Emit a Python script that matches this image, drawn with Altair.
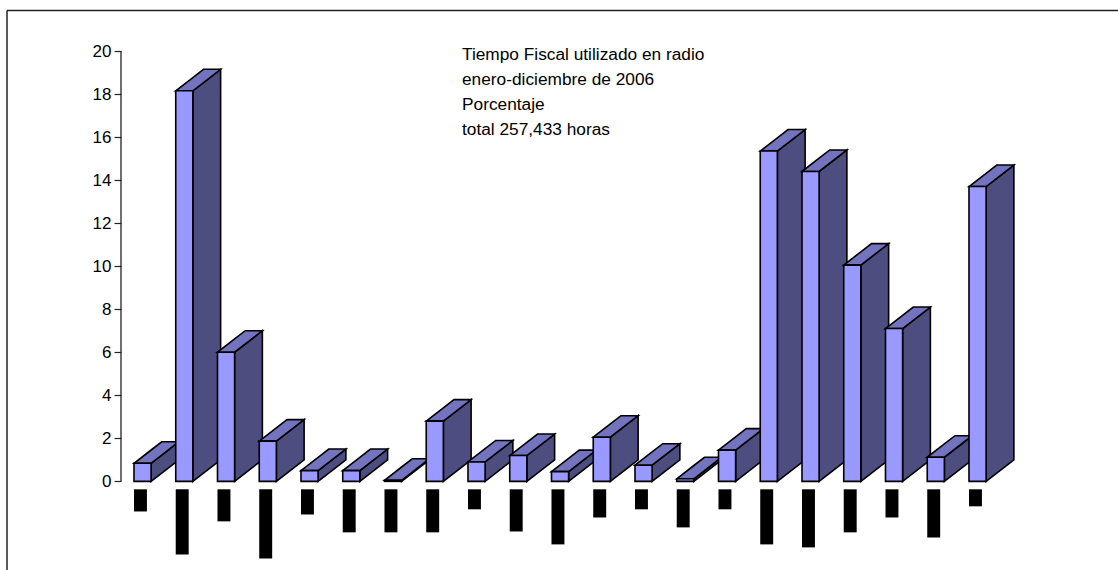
import altair as alt
import pandas as pd

# Share of fiscal airtime per station group, percent
values = [0.84, 18.15, 6.0, 1.87, 0.5, 0.5, 0.05, 2.8, 0.9, 1.2, 0.45,
          2.05, 0.75, 0.12, 1.45, 15.35, 14.4, 10.05, 7.1, 1.12, 13.7]
# Length of the blacked-out category labels, in axis units below zero
label_ends = [1.40, 3.40, 1.86, 3.58, 1.54, 2.37, 2.37, 2.37, 1.30, 2.33, 2.93,
              1.68, 1.30, 2.14, 1.30, 2.93, 3.07, 2.37, 1.68, 2.61, 1.16]
heading = ["Tiempo Fiscal utilizado en radio", "enero-diciembre de 2006",
           "Porcentaje", "total 257,433 horas"]
y_ticks = list(range(0, 21, 2))

BAR_W = 0.41    # front face width, in category steps
DEPTH_X = 0.665 # extrusion to the right, in category steps
DEPTH_Y = 1.0   # extrusion upward, in percent units
LABEL_W = 0.31
LABEL_TOP = -0.37
EDGE = 1.6

fronts, sides, tops, labels = [], [], [], []
for i, (v, end) in enumerate(zip(values, label_ends)):
    fronts.append({"x": i, "x2": i + BAR_W, "y": v, "y2": 0})
    labels.append({"x": i, "x2": i + LABEL_W, "y": LABEL_TOP, "y2": -end})
    r = i + BAR_W
    sides += [
        {"i": i, "x": r, "y": v, "y2": 0},
        {"i": i, "x": r + DEPTH_X, "y": v + DEPTH_Y, "y2": DEPTH_Y},
    ]
    slope = DEPTH_Y / DEPTH_X
    tops += [
        {"i": i, "x": i, "y": v, "y2": v},
        {"i": i, "x": r, "y": v + BAR_W * slope, "y2": v},
        {"i": i, "x": i + DEPTH_X, "y": v + DEPTH_Y, "y2": v + (DEPTH_X - BAR_W) * slope},
        {"i": i, "x": r + DEPTH_X, "y": v + DEPTH_Y, "y2": v + DEPTH_Y},
    ]

PLOT_W, PLOT_H = 997, 519
x_scale = alt.Scale(domain=[-0.311, 23.569], nice=False, zero=False)
y_scale = alt.Scale(domain=[-4.12, 20], nice=False, zero=False)
# Value axis: ticks and labels come from the scale, the spine is drawn separately
y_axis = alt.Axis(
    values=y_ticks, title=None, domain=False, grid=False, tickSize=7,
    tickColor="#222222", tickWidth=1.2, labelColor="black", labelPadding=3,
    labelFont="Liberation Sans", labelFontSize=17, format="d",
)
x_enc = alt.X("x:Q", scale=x_scale, axis=None)
y_enc = alt.Y("y:Q", scale=y_scale, stack=None, axis=y_axis)

side_layer = alt.Chart(pd.DataFrame(sides)).mark_area(
    color="#4D4D80", stroke="black", strokeWidth=EDGE, interpolate="linear"
).encode(x=x_enc, y=y_enc, y2="y2:Q", detail="i:N")

top_layer = alt.Chart(pd.DataFrame(tops)).mark_area(
    color="#7373BF", stroke="black", strokeWidth=EDGE, interpolate="linear"
).encode(x=x_enc, y=y_enc, y2="y2:Q", detail="i:N")

front_layer = alt.Chart(pd.DataFrame(fronts)).mark_rect(
    color="#9999FF", stroke="black", strokeWidth=EDGE
).encode(x=x_enc, x2="x2:Q", y=y_enc, y2="y2:Q")

label_layer = alt.Chart(pd.DataFrame(labels)).mark_rect(color="black").encode(
    x=x_enc, x2="x2:Q", y=y_enc, y2="y2:Q"
)

spine = alt.Chart(pd.DataFrame({"y": [0], "y2": [20]})).mark_rule(
    color="#222222", strokeWidth=1.3
).encode(x=alt.value(0), y=y_enc, y2="y2:Q")

frame_top = alt.Chart(pd.DataFrame({"k": [0]})).mark_rule(
    color="#222222", strokeWidth=1.5
).encode(x=alt.value(-114), x2=alt.value(PLOT_W), y=alt.value(-40.5))
frame_left = alt.Chart(pd.DataFrame({"k": [0]})).mark_rule(
    color="#222222", strokeWidth=1.5
).encode(x=alt.value(-114), y=alt.value(-40.5), y2=alt.value(PLOT_H))

heading_layer = alt.Chart(pd.DataFrame({"k": [0]})).mark_text(
    text=heading, align="left", baseline="top", font="Liberation Sans",
    fontSize=17.3, lineHeight=25, color="black",
).encode(x=alt.value(341), y=alt.value(-5))

chart = alt.layer(
    frame_top, frame_left, spine,
    side_layer, top_layer, front_layer, label_layer, heading_layer,
).properties(
    width=PLOT_W, height=PLOT_H,
    padding={"left": 121, "top": 51, "right": 0, "bottom": 0},
    autosize=alt.AutoSizeParams(type="none"),
    background="white",
).configure_view(stroke=None)

chart.save("out.html", embed_options={"renderer": "svg", "actions": False})
